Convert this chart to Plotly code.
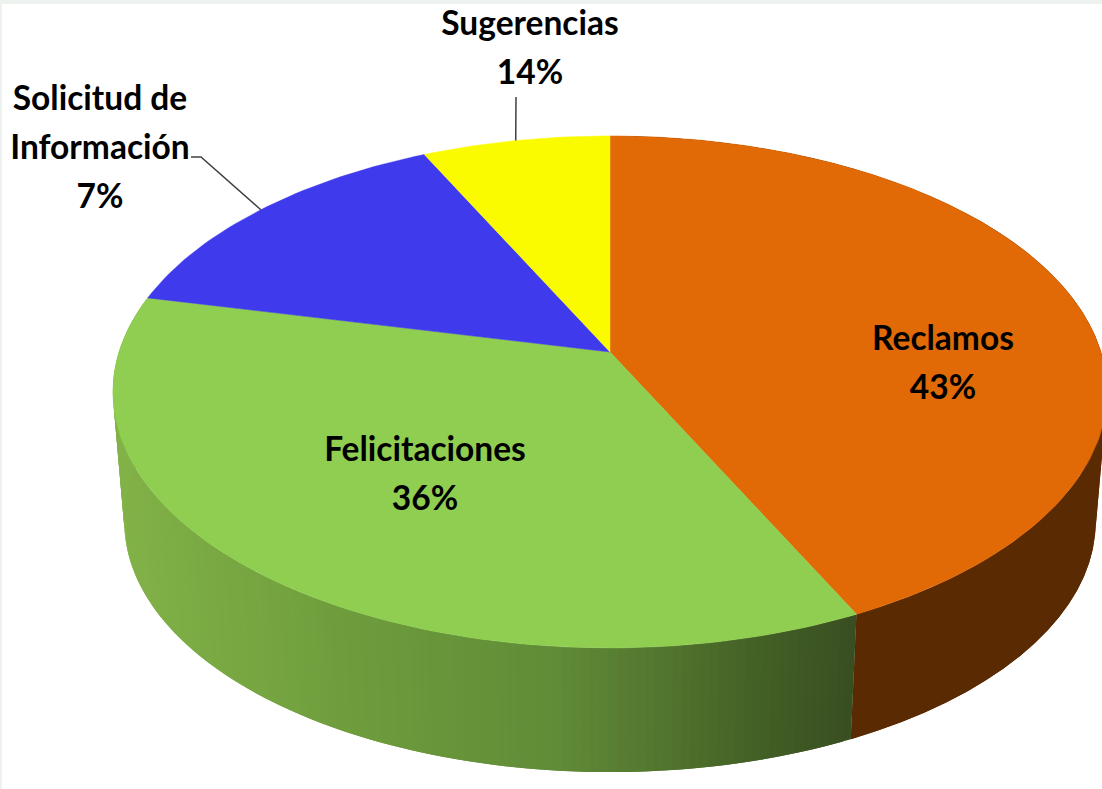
import math
import plotly.graph_objects as go

# Data
categories = ["Reclamos", "Felicitaciones", "Solicitud de Información", "Sugerencias"]
slice_values = [42.9, 35.7, 14.3, 7.1]      # share of the drawn slices
shown_labels = ["43%", "36%", "7%", "14%"]  # percentages as printed on the chart
top_colors = ["#E26A06", "#8FCE50", "#3F3BEC", "#FBFB00"]
wall_brown = "#5A2A02"
green_stops = [(113, (130, 178, 72)), (350, (110, 156, 60)), (550, (97, 140, 56)),
               (650, (84, 120, 48)), (750, (68, 98, 38)), (856, (57, 78, 33))]

# Projection of the pie disc
CX, CY, RX, RY, K = 610.0, 352.0, 491.0, 249.75, 0.156
DROP, SHRINK = 131.0, 0.977
N_PER_PCT = 3


def rim(pct, bottom=False):
    a = math.radians(pct * 3.6)
    u, v = math.sin(a), math.cos(a)
    s = 1 / (1 + K * v)
    dx, dy = RX * u * s, -RY * v * s
    if bottom:
        return CX + SHRINK * dx, CY + DROP + SHRINK * dy
    return CX + dx, CY + dy


def wall_green(x):
    for (x0, c0), (x1, c1) in zip(green_stops, green_stops[1:]):
        if x <= x1:
            t = max(0.0, (x - x0) / (x1 - x0))
            return "rgb(%d,%d,%d)" % tuple(round(a + (b - a) * t) for a, b in zip(c0, c1))
    return "rgb(%d,%d,%d)" % green_stops[-1][1]


def pct_steps(p0, p1):
    n = max(2, int((p1 - p0) * N_PER_PCT))
    return [p0 + (p1 - p0) * i / n for i in range(n + 1)]


fig = go.Figure()


def poly(xs, ys, color, width=0.0):
    fig.add_trace(go.Scatter(x=xs, y=ys, mode="lines", fill="toself", fillcolor=color,
                             line=dict(color=color, width=width), hoverinfo="skip", showlegend=False))


def wall(p0, p1, n, color_of):
    # each strip runs under the next ones, so no seam shows between them
    steps = [p0 + (p1 - p0) * i / n for i in range(n + 1)]
    for i in range(n):
        seg = steps[i:i + 3]
        tp = [rim(p) for p in seg]
        bt = [rim(p, True) for p in seg]
        mid = (rim(steps[i])[0] + rim(steps[i + 1])[0]) / 2
        poly([q[0] for q in tp] + [q[0] for q in bt[::-1]] + [tp[0][0]],
             [q[1] for q in tp] + [q[1] for q in bt[::-1]] + [tp[0][1]], color_of(mid))


bounds = [0]
for v in slice_values:
    bounds.append(bounds[-1] + v)

wall(bounds[0], bounds[1], 50, lambda x: wall_brown)
wall(bounds[1], bounds[2], 140, wall_green)

# Top faces
for i, color in enumerate(top_colors):
    pts = [rim(p) for p in pct_steps(bounds[i], bounds[i + 1])]
    poly([CX] + [q[0] for q in pts] + [CX], [CY] + [q[1] for q in pts] + [CY], color, 0.5)

# Leader lines, anchored on the rim at the middle of each small slice
mid_blue = rim((bounds[2] + bounds[3]) / 2)
mid_yellow = rim((bounds[3] + bounds[4]) / 2)
for xs, ys in (([191, 201, mid_blue[0]], [157, 157, mid_blue[1]]),
               ([516, mid_yellow[0]], [97, mid_yellow[1]])):
    fig.add_trace(go.Scatter(x=xs, y=ys, mode="lines", line=dict(color="#404040", width=1.5),
                             hoverinfo="skip", showlegend=False))

# Labels
name_lines = [["Reclamos"], ["Felicitaciones"], ["Solicitud de", "Información"], ["Sugerencias"]]
label_anchor = [(943, 342), (425, 453), (100, 102), (530, 27)]
LINE_GAP = 49
tx, ty, tt = [], [], []
for lines, pct, (ax, ay) in zip(name_lines, shown_labels, label_anchor):
    for j, t in enumerate(lines + [pct]):
        tx.append(ax)
        ty.append(ay + j * LINE_GAP)
        tt.append(t)
fig.add_trace(go.Scatter(x=tx, y=ty, text=tt, mode="text", textposition="middle center",
                         textfont=dict(family="Lato", size=33.5, color="#000000", weight=700),
                         hoverinfo="skip", showlegend=False))

fig.update_layout(
    width=1102, height=789, margin=dict(l=0, r=0, t=0, b=0),
    paper_bgcolor="white", plot_bgcolor="white",
    xaxis=dict(range=[0, 1102], visible=False, fixedrange=True),
    yaxis=dict(range=[789, 0], visible=False, fixedrange=True),
    shapes=[dict(type="rect", xref="x", yref="y", x0=0, x1=1102, y0=0, y1=4,
                 fillcolor="#EEF2EE", line_width=0, layer="below"),
            dict(type="rect", xref="x", yref="y", x0=0, x1=2, y0=0, y1=789,
                 fillcolor="#EEF2EE", line_width=0, layer="below")],
)
fig.write_html("out.html", post_script="document.body.style.margin='0';",
               config={"displayModeBar": False})
